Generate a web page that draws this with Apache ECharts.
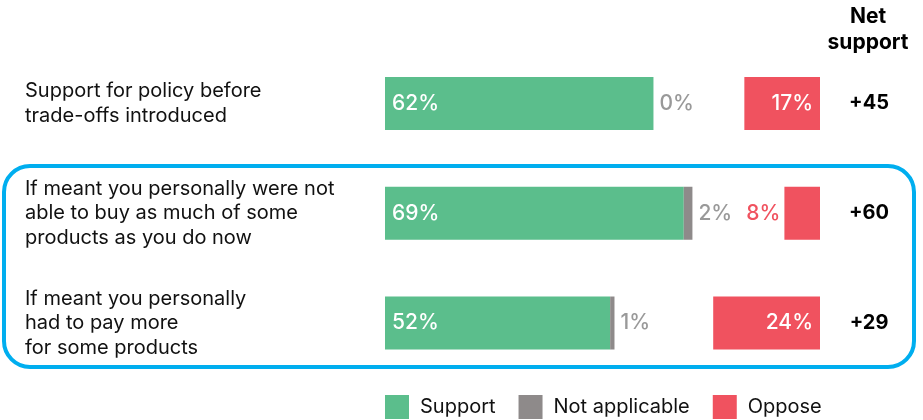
<!DOCTYPE html>
<html>
<head>
<meta charset="utf-8">
<script src="https://cdn.jsdelivr.net/npm/echarts@6/dist/echarts.min.js"></script>
<style>
  html, body { margin: 0; padding: 0; background: #fff; }
  #chart { width: 923px; height: 420px; }
</style>
</head>
<body>
<div id="chart"></div>
<script>
// Survey rows (top to bottom)
const categories = [
  'Support for policy before\ntrade-offs introduced',
  'If meant you personally were not\nable to buy as much of some\nproducts as you do now',
  'If meant you personally\nhad to pay more\nfor some products'
];
const supportValues = [62, 69, 52];
const notApplicableValues = [0, 2, 1];
const opposeValues = [17, 8, 24];
const netSupport = ['+45', '+60', '+29'];

const GREEN = '#5BBE8C';
const GREY = '#8E8A8A';
const RED = '#F0525F';
const FONT = 'Inter, "Liberation Sans", Arial, sans-serif';

const chart = echarts.init(document.getElementById('chart'), null, { renderer: 'canvas' });

const pct = v => v + '%';

chart.setOption({
  animation: false,
  textStyle: { fontFamily: FONT },
  legend: {
    data: [
      { name: 'Support', itemStyle: { color: GREEN } },
      { name: 'Not applicable', itemStyle: { color: GREY } },
      { name: 'Oppose', itemStyle: { color: RED } }
    ],
    left: 380,
    top: 390,
    icon: 'rect',
    itemWidth: 24,
    itemHeight: 24,
    itemGap: 23,
    selectedMode: false,
    textStyle: { fontSize: 20, color: '#111', fontFamily: FONT, padding: [0, 0, 0, 6] }
  },
  grid: [
    // support + not applicable grow rightwards from the left edge
    { left: 385, width: 433, top: 48.6, height: 329.3 },
    // oppose grows leftwards from the right edge
    { right: 103, width: 445, top: 48.6, height: 329.3 }
  ],
  xAxis: [
    { gridIndex: 0, type: 'value', min: 0, max: 100, show: false },
    { gridIndex: 1, type: 'value', min: 0, max: 100, inverse: true, show: false }
  ],
  yAxis: [
    {
      gridIndex: 0, type: 'category', data: categories, inverse: true,
      axisLine: { show: false }, axisTick: { show: false }, splitLine: { show: false },
      axisLabel: {
        align: 'left', margin: 360, fontSize: 20, lineHeight: 24.5, color: '#111', fontFamily: FONT
      }
    },
    {
      gridIndex: 1, type: 'category', data: categories, inverse: true, position: 'right',
      axisLine: { show: false }, axisTick: { show: false }, splitLine: { show: false },
      axisLabel: {
        align: 'center', margin: 49, fontSize: 20, fontWeight: 'bold', color: '#000', fontFamily: FONT,
        formatter: (v, i) => netSupport[i]
      }
    }
  ],
  series: [
    {
      name: 'Support', type: 'bar', stack: 'left', xAxisIndex: 0, yAxisIndex: 0,
      data: supportValues, barWidth: 53, itemStyle: { color: GREEN },
      label: {
        show: true, position: 'insideLeft', distance: 7, color: '#fff', fontSize: 21, fontWeight: 500,
        fontFamily: FONT, formatter: p => pct(p.value)
      }
    },
    {
      name: 'Not applicable', type: 'bar', stack: 'left', xAxisIndex: 0, yAxisIndex: 0,
      data: notApplicableValues, barWidth: 53, itemStyle: { color: GREY },
      label: {
        show: true, position: 'right', distance: 6, color: '#999', fontSize: 21, fontWeight: 500,
        fontFamily: FONT, formatter: p => pct(p.value)
      }
    },
    {
      name: 'Oppose', type: 'bar', xAxisIndex: 1, yAxisIndex: 1, barWidth: 53,
      itemStyle: { color: RED },
      data: opposeValues.map(v => v < 10
        ? { value: v, label: { position: 'left', distance: 4, color: RED } }
        : { value: v }),
      label: {
        show: true, position: 'insideRight', distance: 7, color: '#fff', fontSize: 21, fontWeight: 500,
        fontFamily: FONT, formatter: p => pct(p.value)
      }
    }
  ],
  graphic: [
    {
      type: 'text', style: {
        text: 'Net\nsupport', x: 868, y: 4, align: 'center', lineHeight: 26,
        fill: '#000', font: 'bold 21px ' + FONT
      }
    },
    {
      type: 'rect', shape: { x: 4, y: 166, width: 910, height: 201, r: 26 },
      style: { fill: 'none', stroke: '#00AEEF', lineWidth: 4 }, z: 0
    }
  ]
});
</script>
</body>
</html>
